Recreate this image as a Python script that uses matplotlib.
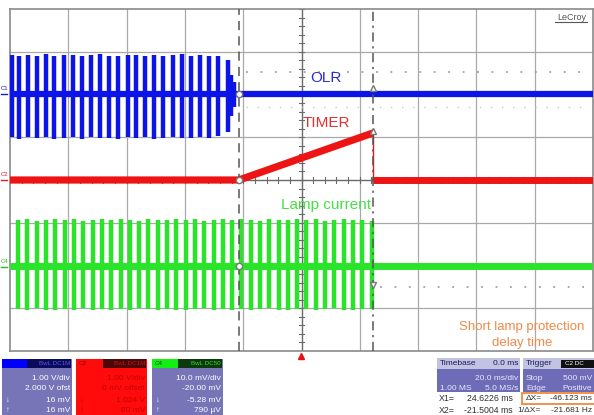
import matplotlib
matplotlib.use("Agg")
import matplotlib.pyplot as plt
from matplotlib.patches import Rectangle
import numpy as np

plt.rcParams['font.family'] = ['Liberation Sans', 'DejaVu Sans']

# ---------------- data (time in ms, amplitude in screen divisions) ----------------
cursor_x1 = 24.6226
cursor_x2 = -21.5004

olr_level_t = [-100.0, 100.0]
olr_level_v = [2.0, 2.0]
olr_burst_t = [-99.4, -96.8, -93.7, -90.8, -87.6, -84.8, -81.5, -78.5, -75.4, -72.3,
               -69.1, -66.1, -62.8, -59.6, -56.8, -53.7, -50.5, -47.4, -44.2, -41.1,
               -37.9, -34.8, -31.6, -28.5, -25.3, -24.2, -23.2]
olr_burst_top = [2.92, 2.90, 2.93, 2.91, 2.94, 2.90, 2.92, 2.93, 2.90, 2.92,
                 2.94, 2.91, 2.90, 2.93, 2.92, 2.90, 2.93, 2.91, 2.92, 2.94,
                 2.90, 2.92, 2.91, 2.89, 2.81, 2.45, 2.30]
olr_burst_bot = [1.00, 0.97, 1.01, 0.98, 1.00, 0.96, 0.99, 1.01, 0.97, 1.00,
                 0.98, 0.99, 0.96, 1.00, 0.98, 1.01, 0.97, 0.99, 1.00, 0.98,
                 0.99, 1.00, 0.98, 1.02, 1.12, 1.50, 1.70]

timer_ramp_t = [-100.0, -21.5, 24.5]
timer_ramp_v = [0.0, 0.0, 1.10]
timer_after_t = [24.5, 100.0]
timer_after_v = [0.0, 0.0]

lamp_level_t = [-100.0, 100.0]
lamp_level_v = [-2.0, -2.0]
lamp_burst_t = [-97.1, -94.0, -90.8, -87.6, -84.4, -81.2, -78.0, -74.8, -71.6, -68.4,
                -65.2, -62.0, -58.8, -55.7, -52.5, -49.3, -46.1, -42.9, -39.7, -36.5,
                -33.3, -30.1, -27.0, -23.8, -20.6, -17.4, -14.2, -11.0, -7.8, -4.6,
                -1.4, 1.7, 4.9, 8.1, 11.3, 14.5, 17.7, 20.9, 24.1]
lamp_burst_top = [-0.94, -0.92, -0.95, -0.93, -0.91, -0.94, -0.92, -0.95, -0.93, -0.92,
                  -0.94, -0.91, -0.93, -0.95, -0.92, -0.94, -0.93, -0.91, -0.94, -0.92,
                  -0.95, -0.93, -0.92, -0.94, -0.91, -0.93, -0.95, -0.92, -0.94, -0.93,
                  -0.91, -0.94, -0.92, -0.95, -0.93, -0.92, -0.94, -0.93, -0.95]
lamp_burst_bot = [-3.02, -3.04, -3.00, -3.03, -3.05, -3.01, -3.03, -3.00, -3.04, -3.02,
                  -3.05, -3.01, -3.03, -3.00, -3.02, -3.04, -3.01, -3.03, -3.05, -3.02,
                  -3.00, -3.04, -3.02, -3.03, -3.01, -3.04, -3.02, -3.00, -3.03, -3.05,
                  -3.02, -3.01, -3.04, -3.02, -3.00, -3.03, -3.05, -3.01, -3.02]

# ---------------- figure ----------------
W, H = 594, 415
fig = plt.figure(figsize=(W / 100, H / 100), dpi=100)
fig.patch.set_facecolor('white')

# overlay axes in pixel coordinates for the instrument panels
ov = fig.add_axes([0, 0, 1, 1])
ov.set_xlim(0, W)
ov.set_ylim(H, 0)
ov.axis('off')

BODY = '#7775b8'

def rect(x0, y0, x1, y1, fc, ec='none', lw=0, z=1):
    ov.add_patch(Rectangle((x0, y0), x1 - x0, y1 - y0, facecolor=fc,
                           edgecolor=ec, linewidth=lw, zorder=z))

def txt(x, y, s, c='white', ha='right', fs=6.0, **kw):
    ov.text(x, y, s, color=c, ha=ha, va='center', fontsize=fs, zorder=5, **kw)

# Channel 1 panel
rect(2, 359, 72, 416, BODY)
rect(2, 359, 27, 368, '#0000ff')
rect(27, 359, 71, 368, '#0b0b5e')
txt(70, 363.5, 'BwL DC1M', c='#5c5cd8', fs=4.5)
txt(70, 378, '1.00 V/div')
txt(70, 388, '2.000 V ofst')
txt(6, 400, '↓', ha='left', fs=5.5)
txt(6, 410, '↑', ha='left', fs=5.5)
txt(70, 400, '16 mV')
txt(70, 410, '16 mV')

# Channel 2 panel
rect(76, 359, 147, 416, '#ff0b0b')
rect(103, 359, 146, 368, '#4a0808')
txt(79, 363.5, 'C2', c='#8a0000', ha='left', fs=4.5)
txt(145, 363.5, 'BwL DC1M', c='#d01010', fs=4.5)
RT = '#c40000'
txt(145, 378, '1.00 V/div', c=RT)
txt(145, 388, '0 mV offset', c=RT)
txt(80, 400, '↓', c=RT, ha='left', fs=5.5)
txt(80, 410, '↑', c=RT, ha='left', fs=5.5)
txt(145, 400, '1.024 V', c=RT)
txt(145, 410, '80 mV', c=RT)

# Channel 4 panel
rect(152, 359, 223, 416, BODY)
rect(152, 359, 178, 368, '#12f012')
rect(178, 359, 222, 368, '#0c3a0c')
txt(155, 363.5, 'C4', c='#0a3a0a', ha='left', fs=4.5)
txt(221, 363.5, 'BwL DC50', c='#30e030', fs=4.5)
txt(221, 378, '10.0 mV/div')
txt(221, 388, '-20.00 mV')
txt(156, 400, '↓', ha='left', fs=5.5)
txt(156, 410, '↑', ha='left', fs=5.5)
txt(221, 400, '-5.28 mV')
txt(221, 410, '790 µV')

# Timebase panel
rect(437, 358, 520, 392, '#6e6cb6')
rect(437, 358, 520, 369, '#c2c2e2')
txt(440, 363.5, 'Timebase', c='#1c1c5a', ha='left', fs=6)
txt(518, 363.5, '0.0 ms', c='#1c1c5a', fs=6)
txt(518, 378, '20.0 ms/div', c='#e8e8ff')
txt(440, 388, '1.00 MS', c='#e8e8ff', ha='left')
txt(518, 388, '5.0 MS/s', c='#e8e8ff')

# Trigger panel
rect(523, 358, 596, 392, '#6e6cb6')
rect(523, 358, 596, 369, '#c2c2e2')
rect(561, 359.5, 596, 368, '#101010')
txt(526, 363.5, 'Trigger', c='#1c1c5a', ha='left', fs=6)
txt(565, 363.5, 'C2 DC', c='white', ha='left', fs=4.5)
txt(526, 378, 'Stop', c='#e8e8ff', ha='left')
txt(592, 378, '500 mV', c='#e8e8ff')
txt(526, 388, 'Edge', c='#e8e8ff', ha='left')
txt(592, 388, 'Positive', c='#e8e8ff')

# Cursor readouts
TK = '#303030'
txt(439, 398, 'X1=', c=TK, ha='left', fs=6.3)
txt(513, 398, '24.6226 ms', c=TK, fs=6.3)
txt(439, 410, 'X2=', c=TK, ha='left', fs=6.3)
txt(513, 410, '-21.5004 ms', c=TK, fs=6.3)
rect(522, 392.5, 597, 404, 'white', ec='#f08a3a', lw=1.3, z=2)
txt(526, 398, 'ΔX=', c=TK, ha='left', fs=6.0)
txt(592, 398, '-46.123 ms', c=TK, fs=6.0)
txt(517, 410, '1/ΔX=', c=TK, ha='left', fs=6.0)
txt(592, 410, '-21.681 Hz', c=TK, fs=6.0)

# channel labels at left edge
txt(1, 88, 'C1', c='#1a1ad0', ha='left', fs=4.3)
ov.plot([1, 7], [94, 94], color='#1a1ad0', lw=1)
txt(1, 174, 'C2', c='#e02020', ha='left', fs=4.3)
ov.plot([1, 7], [180, 180], color='#e02020', lw=1)
txt(1, 261, 'C4', c='#20c020', ha='left', fs=4.3)
ov.plot([1, 7], [267, 267], color='#20c020', lw=1)

# trigger position marker
ov.plot([300.5], [355.5], marker='^', color='#e81010', markersize=5, zorder=5)

# ---------------- main scope grid ----------------
ax = fig.add_axes([10 / W, 1 - 351 / H, 583 / W, 342 / H])
ax.set_xlim(-100, 100)
ax.set_ylim(-4, 4)
ax.set_xticks([])
ax.set_yticks([])
for s in ax.spines.values():
    s.set_color('#8a8a8a')
    s.set_linewidth(1.2)

GRID = '#a9a9a9'
for t in range(-80, 100, 20):
    ax.axvline(t, color=GRID if t != 0 else '#6a6a6a', lw=0.9 if t != 0 else 1.0, zorder=1)
for v in range(-3, 4):
    ax.axhline(v, color=GRID if v != 0 else '#6a6a6a', lw=0.9 if v != 0 else 1.0, zorder=1)
# minor ticks on center axes
for v in np.arange(-4, 4.001, 0.2):
    ax.plot([-1.0, 1.0], [v, v], color='#6a6a6a', lw=0.8, zorder=1)
for t in np.arange(-100, 100.001, 4):
    ax.plot([t, t], [-0.07, 0.07], color='#6a6a6a', lw=0.8, zorder=1)

# dotted reference levels
ax.plot([-19, 99], [2.53, 2.53], color='#a0a0a0', lw=1.3, ls=(0, (1, 7)), zorder=1)
ax.plot([-19, 99], [1.71, 1.71], color='#c8c8c8', lw=1.0, ls=(0, (1, 7)), zorder=1)
ax.plot([27, 99], [-2.5, -2.5], color='#a0a0a0', lw=1.3, ls=(0, (1, 7)), zorder=1)

# traces
BLUE = '#0c14e8'
RED = '#ee1414'
GREEN = '#2ae42a'
ax.plot(olr_level_t, olr_level_v, color=BLUE, lw=4.5, solid_capstyle='butt', zorder=3)
ax.vlines(olr_burst_t, olr_burst_bot, olr_burst_top, color=BLUE, lw=3.2, zorder=3)

ax.plot(timer_ramp_t, timer_ramp_v, color=RED, lw=5.2, solid_capstyle='butt', zorder=3)
ax.plot(timer_after_t, timer_after_v, color=RED, lw=5.0, solid_capstyle='butt', zorder=3)
ax.plot([timer_ramp_t[-1], timer_ramp_t[-1]], [timer_ramp_v[-1], timer_after_v[0]],
        color=RED, lw=1.0, zorder=3)

ax.plot(lamp_level_t, lamp_level_v, color=GREEN, lw=5.0, solid_capstyle='butt', zorder=3)
ax.vlines(lamp_burst_t, lamp_burst_bot, lamp_burst_top, color=GREEN, lw=3.2, zorder=3)

# cursors
ax.axvline(cursor_x2, color='#555555', lw=1.1, ls=(0, (6, 4)), zorder=4)
ax.axvline(cursor_x1, color='#555555', lw=1.1, ls=(0, (6, 3, 1.5, 3)), zorder=4)
for v in [olr_level_v[0], timer_ramp_v[0], lamp_level_v[0]]:
    ax.plot([cursor_x2], [v], marker='o', ms=4.5, mfc='white', mec='#777777', mew=1.0, zorder=5)
ax.plot([cursor_x1], [2.15], marker='^', ms=5, mfc='white', mec='#777777', mew=1.0, zorder=5)
ax.plot([cursor_x1], [1.15], marker='^', ms=5, mfc='white', mec='#777777', mew=1.0, zorder=5)
ax.plot([cursor_x1], [-2.45], marker='v', ms=5, mfc='white', mec='#777777', mew=1.0, zorder=5)

# labels
ax.text(8.4, 2.39, 'OLR', color='#2b2bd2', fontsize=11, ha='center', va='center', zorder=6)
ax.text(8.7, 1.33, 'TIMER', color='#e83030', fontsize=11, ha='center', va='center', zorder=6)
ax.text(8.4, -0.58, 'Lamp current', color='#45e045', fontsize=11, ha='center', va='center', zorder=6)
ax.text(75.6, -3.44, 'Short lamp protection', color='#f08a48', fontsize=9.5,
        ha='center', va='center', zorder=6)
ax.text(75.6, -3.81, 'delay time', color='#f08a48', fontsize=9.5,
        ha='center', va='center', zorder=6)
ax.text(92.6, 3.81, 'LeCroy', color='#555555', fontsize=6.5, ha='center', va='center', zorder=6)
ax.plot([87.0, 98.0], [3.69, 3.69], color='#555555', lw=0.8, zorder=6)

fig.savefig('out.png', dpi=100)
